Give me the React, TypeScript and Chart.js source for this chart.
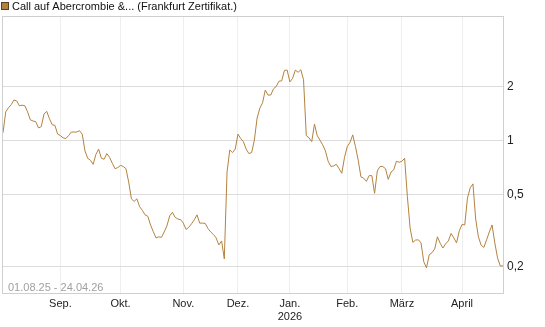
import React, { useEffect, useRef } from "react";
import { Chart, registerables } from "chart.js";

Chart.register(...registerables);

const seriesLabel = "Call auf Abercrombie &... (Frankfurt Zertifikat.)";
const dateRangeText = "01.08.25 - 24.04.26";
const startDate = "2025-08-01";
const endDate = "2026-04-24";
const holidays = ["2025-12-24", "2025-12-25", "2025-12-26", "2025-12-31", "2026-01-01", "2026-04-03", "2026-04-06"];
const monthNames = ["Jan.", "Feb.", "März", "April", "Mai", "Juni", "Juli", "Aug.", "Sep.", "Okt.", "Nov.", "Dez."];
const yTicks = [0.2, 0.5, 1, 2];

const prices = [
  1.11, 1.45, 1.53, 1.59, 1.69, 1.67, 1.57, 1.58, 1.57, 1.45,
  1.31, 1.29, 1.28, 1.18, 1.2, 1.41, 1.46, 1.33, 1.23, 1.22,
  1.09, 1.07, 1.04, 1.03, 1.07, 1.12, 1.12, 1.12, 1.14, 1.09,
  0.88, 0.8, 0.78, 0.74, 0.84, 0.9, 0.8, 0.79, 0.85, 0.81,
  0.75, 0.7, 0.71, 0.73, 0.72, 0.7, 0.59, 0.475, 0.46, 0.475,
  0.43, 0.41, 0.387, 0.38, 0.34, 0.312, 0.288, 0.292, 0.29, 0.311,
  0.336, 0.382, 0.4, 0.375, 0.367, 0.364, 0.348, 0.321, 0.33, 0.345,
  0.363, 0.387, 0.348, 0.348, 0.347, 0.325, 0.311, 0.301, 0.288, 0.263,
  0.277, 0.22, 0.67, 0.89, 0.86, 0.9, 1.09, 1.03, 0.99, 0.9,
  0.85, 0.86, 1.01, 1.34, 1.52, 1.63, 1.92, 1.8, 1.8, 1.95,
  2.01, 2.15, 2.16, 2.47, 2.48, 2.13, 2.23, 2.48, 2.41, 2.49,
  2.19, 1.07, 1.04, 0.99, 1.24, 1.07, 1.01, 0.95, 0.88, 0.77,
  0.72, 0.725, 0.74, 0.7, 0.66, 0.81, 0.93, 0.98, 1.08, 0.93,
  0.78, 0.63, 0.62, 0.595, 0.64, 0.64, 0.51, 0.68, 0.72, 0.72,
  0.7, 0.61, 0.67, 0.69, 0.77, 0.76, 0.77, 0.8, 0.49, 0.327,
  0.272, 0.28, 0.281, 0.27, 0.212, 0.196, 0.232, 0.238, 0.25, 0.292,
  0.269, 0.253, 0.267, 0.277, 0.305, 0.288, 0.27, 0.315, 0.342, 0.34,
  0.48, 0.547, 0.576, 0.367, 0.292, 0.262, 0.255, 0.281, 0.311, 0.34,
  0.27, 0.223, 0.201, 0.201,
];

function tradingDays(): Date[] {
  const out: Date[] = [];
  const d = new Date(startDate + "T00:00:00Z");
  const end = new Date(endDate + "T00:00:00Z");
  while (d <= end) {
    const wd = d.getUTCDay();
    const iso = d.toISOString().slice(0, 10);
    if (wd !== 0 && wd !== 6 && !holidays.includes(iso)) out.push(new Date(d));
    d.setUTCDate(d.getUTCDate() + 1);
  }
  return out;
}

const FONT = "'Liberation Sans', Arial, sans-serif";
const LINE_COLOR = "#b3823f";

export default function App() {
  const ref = useRef<HTMLCanvasElement | null>(null);

  useEffect(() => {
    const canvas = ref.current;
    if (!canvas) return;
    const dates = tradingDays();
    const n = Math.min(dates.length, prices.length);
    const points = prices.slice(0, n).map((v, i) => ({ x: i, y: v }));
    const monthTicks: { index: number; label: string | string[] }[] = [];
    for (let i = 1; i < n; i++) {
      const m = dates[i].getUTCMonth();
      if (m !== dates[i - 1].getUTCMonth()) {
        const name = monthNames[m];
        monthTicks.push({ index: i, label: m === 0 ? [name, String(dates[i].getUTCFullYear())] : name });
      }
    }

    const framePlugin = {
      id: "frame",
      beforeDatasetsDraw(chart: any) {
        const { ctx, chartArea: a } = chart;
        ctx.save();
        ctx.strokeStyle = "#cfcfcf";
        ctx.lineWidth = 1;
        ctx.strokeRect(Math.round(a.left) - 0.5, Math.round(a.top) - 0.5, Math.round(a.right - a.left) + 1, Math.round(a.bottom - a.top) + 1);
        ctx.restore();
      },
      afterDraw(chart: any) {
        const { ctx, chartArea: a } = chart;
        ctx.save();
        ctx.font = `11px ${FONT}`;
        ctx.textBaseline = "alphabetic";
        ctx.fillStyle = "#a0a0a0";
        ctx.fillText(dateRangeText, a.left + 5, a.bottom - 2);
        // legend
        ctx.fillStyle = LINE_COLOR;
        ctx.fillRect(1, 2, 7, 7);
        ctx.strokeStyle = "#5a4020";
        ctx.lineWidth = 1;
        ctx.strokeRect(1.5, 2.5, 7, 7);
        ctx.fillStyle = "#111";
        ctx.fillText(seriesLabel, 12, 10);
        ctx.restore();
      },
    };

    const chart = new Chart(canvas, {
      type: "line",
      data: {
        datasets: [
          {
            label: seriesLabel,
            data: points,
            borderColor: LINE_COLOR,
            borderWidth: 1,
            pointRadius: 0,
            tension: 0,
            fill: false,
          },
        ],
      },
      options: {
        animation: false,
        responsive: false,
        devicePixelRatio: 1,
        parsing: false as any,
        layout: { padding: { left: 3, top: 17, right: 0, bottom: 0 } },
        plugins: { legend: { display: false }, tooltip: { enabled: false } },
        scales: {
          x: {
            type: "linear",
            min: 0,
            max: n - 1,
            afterBuildTicks: (s: any) => {
              s.ticks = monthTicks.map((t) => ({ value: t.index }));
            },
            afterFit: (s: any) => {
              s.height = 34;
            },
            grid: { color: "#eeeeee", drawTicks: false },
            border: { display: false },
            ticks: {
              autoSkip: false,
              maxRotation: 0,
              padding: 4,
              color: "#222",
              font: { family: FONT, size: 11 },
              callback: (v: any) => {
                const t = monthTicks.find((m) => m.index === v);
                return t ? t.label : "";
              },
            },
          },
          y: {
            type: "logarithmic",
            position: "right",
            min: 0.142,
            max: 4.9,
            afterBuildTicks: (s: any) => {
              s.ticks = yTicks.map((v) => ({ value: v }));
            },
            afterFit: (s: any) => {
              s.width = 42;
            },
            grid: { color: "#dcdcdc", drawTicks: false },
            border: { display: false },
            ticks: {
              padding: 4,
              color: "#222",
              font: { family: FONT, size: 12 },
              callback: (v: any) => String(v).replace(".", ","),
            },
          },
        },
      },
      plugins: [framePlugin],
    });
    return () => chart.destroy();
  }, []);

  return (
    <div style={{ position: "absolute", left: 0, top: 0, width: 545, height: 327, background: "#fff" }}>
      <canvas ref={ref} width={545} height={327} />
    </div>
  );
}
